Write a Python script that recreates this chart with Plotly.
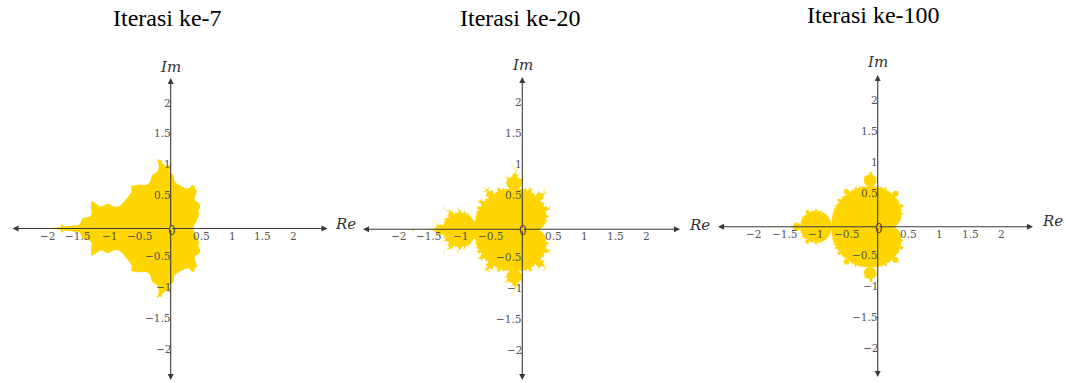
import numpy as np
import plotly.graph_objects as go

W, H = 1066, 383

# Iteration counts shown in the three panels
iterations = [7, 20, 100]
titles = ["Iterasi ke-7", "Iterasi ke-20", "Iterasi ke-100"]

# Tick values / labels along both axes
tick_vals = [-2, -1.5, -1, -0.5, 0.5, 1, 1.5, 2]
tick_text = ["\u22122", "\u22121.5", "\u22121", "\u22120.5", "0.5", "1", "1.5", "2"]

FILL = "#FFD500"
AXIS_COLOR = "#3a3a3a"
TICK_COLOR = "#555555"

# Panel frames in pixels: origin (ox, oy), axis extents (L, R, T, B), px per unit
panels = [
    dict(ox=170.7, oy=228.5, L=12.5, R=327.5, T=78, B=380, s=61.5,
         title=(167, 18), im=(170.7, 67), re=(345, 224)),
    dict(ox=522.3, oy=229.3, L=363, R=680, T=77, B=380, s=62,
         title=(520, 18), im=(522, 65), re=(699, 225)),
    dict(ox=877.7, oy=226.7, L=718, R=1033, T=75, B=377, s=62,
         title=(873, 15), im=(877.7, 62), re=(1052, 221)),
]

# Region of the complex plane that gets sampled
RE_MIN, RE_MAX = -2.2, 0.75
IM_MAX = 1.35
SUB = 4  # sub-samples per cell side, for smooth edges


def bounded_mask(c, n_iter):
    """Points c whose orbit z -> z^2 + c stays within |z| <= 2 for n_iter steps."""
    z = np.zeros_like(c)
    alive = np.ones(c.shape, dtype=bool)
    for _ in range(n_iter):
        z[alive] = z[alive] ** 2 + c[alive]
        alive &= np.abs(z) <= 2
    return alive


def coverage(n_iter, scale):
    """Fraction of each screen-sized cell covered by the bounded set."""
    step = 1.0 / scale
    xs = np.arange(RE_MIN, RE_MAX, step)
    ys = np.arange(-IM_MAX, IM_MAX + step / 2, step)
    offs = (np.arange(SUB) + 0.5) / SUB - 0.5
    sx = (xs[:, None] + offs[None, :] * step).ravel()
    sy = (ys[:, None] + offs[None, :] * step).ravel()
    c = sx[None, :] + 1j * sy[:, None]
    m = bounded_mask(c, n_iter).astype(float)
    cov = m.reshape(len(ys), SUB, len(xs), SUB).mean(axis=(1, 3))
    return xs, ys, cov


fig = go.Figure()
annotations = []

for i, (p, n_iter, title) in enumerate(zip(panels, iterations, titles)):
    k = "" if i == 0 else str(i + 1)
    xa, ya = "x" + k, "y" + k

    xs, ys, cov = coverage(n_iter, p["s"])
    z = np.where(cov > 0, cov, np.nan)
    fig.add_trace(go.Heatmap(
        z=z, x=xs, y=ys, xaxis=xa, yaxis=ya, zmin=0, zmax=1,
        colorscale=[[0, "#FFFFFF"], [1, FILL]], showscale=False,
        hoverinfo="skip", zsmooth=False,
    ))

    x_rng = [(p["L"] - p["ox"]) / p["s"], (p["R"] - p["ox"]) / p["s"]]
    y_rng = [(p["oy"] - p["B"]) / p["s"], (p["oy"] - p["T"]) / p["s"]]
    fig.layout["xaxis" + k] = dict(
        domain=[p["L"] / W, p["R"] / W], range=x_rng, visible=False,
        anchor=ya, fixedrange=True)
    fig.layout["yaxis" + k] = dict(
        domain=[1 - p["B"] / H, 1 - p["T"] / H], range=y_rng, visible=False,
        anchor=xa, fixedrange=True)

    # Axis arrows from the origin to each end
    for (tx, ty) in [(x_rng[0], 0), (x_rng[1], 0), (0, y_rng[0]), (0, y_rng[1])]:
        annotations.append(dict(
            x=tx, y=ty, ax=0, ay=0, xref=xa, yref=ya, axref=xa, ayref=ya,
            text="", showarrow=True, arrowhead=2, arrowsize=1.1,
            arrowwidth=1.1, arrowcolor=AXIS_COLOR))

    tick_font = dict(family="DejaVu Serif", size=10.5, color=TICK_COLOR)
    for v, t in zip(tick_vals, tick_text):
        annotations.append(dict(
            x=v, y=0, xref=xa, yref=ya, text=t, showarrow=False,
            xanchor="center", yanchor="middle", yshift=-7, font=tick_font))
        annotations.append(dict(
            x=0, y=v, xref=xa, yref=ya, text=t, showarrow=False,
            xanchor="right", yanchor="middle", xshift=2, yshift=3,
            font=tick_font))
    annotations.append(dict(
        x=0, y=0, xref=xa, yref=ya, text="0", showarrow=False,
        xanchor="center", yanchor="middle", xshift=1, yshift=-2,
        font=dict(family="DejaVu Serif", size=12, color="#444")))

    # Axis names and panel title
    annotations.append(dict(
        x=p["im"][0] / W, y=1 - p["im"][1] / H, xref="paper", yref="paper",
        text="<i>Im</i>", showarrow=False, xanchor="center", yanchor="middle",
        font=dict(family="DejaVu Serif", size=15, color="#333")))
    annotations.append(dict(
        x=p["re"][0] / W, y=1 - p["re"][1] / H, xref="paper", yref="paper",
        text="<i>Re</i>", showarrow=False, xanchor="center", yanchor="middle",
        font=dict(family="DejaVu Serif", size=15, color="#333")))
    annotations.append(dict(
        x=p["title"][0] / W, y=1 - p["title"][1] / H, xref="paper", yref="paper",
        text=title, showarrow=False, xanchor="center", yanchor="middle",
        font=dict(family="Liberation Serif", size=24, color="#000")))

fig.update_layout(
    width=W, height=H, margin=dict(l=0, r=0, t=0, b=0),
    paper_bgcolor="white", plot_bgcolor="rgba(0,0,0,0)",
    showlegend=False, annotations=annotations,
)

fig.write_html("out.html", config={"displayModeBar": False})
